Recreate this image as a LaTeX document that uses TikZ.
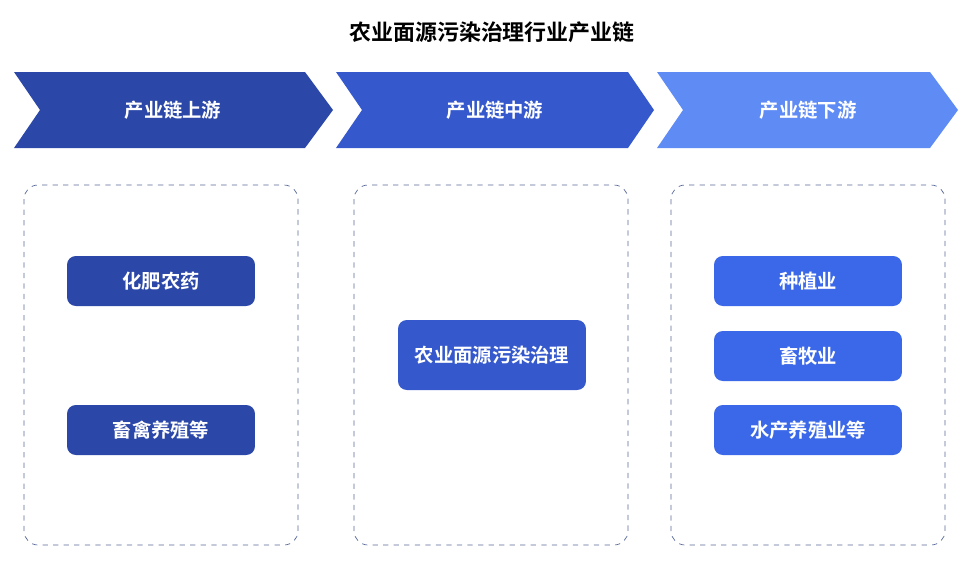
\documentclass[tikz,border=0pt]{standalone}
\usepackage{fontspec}
\setmainfont{Noto Sans CJK SC}[BoldFont={Noto Sans CJK SC Bold}]
\usetikzlibrary{positioning}
\definecolor{upc}{HTML}{2B47A8}
\definecolor{midc}{HTML}{3559CC}
\definecolor{downc}{HTML}{5F8BF5}
\definecolor{itemc}{HTML}{3A68E8}
\definecolor{dashc}{HTML}{5A6A9A}
\tikzset{
  chevtext/.style={text=white,font=\fontsize{11}{13}\selectfont\bfseries},
  item/.style={rounded corners=5pt,minimum width=3.76cm,minimum height=1cm,text=white,font=\fontsize{11}{13}\selectfont\bfseries},
  panel/.style={draw=dashc,dashed,rounded corners=8pt,thin}
}
\begin{document}
\begin{tikzpicture}[x=0.02cm,y=-0.02cm]
\useasboundingbox (0,0) rectangle (973,562);
% title
\node (title) at (492,32) {\fontsize{12.5}{15}\selectfont\bfseries 农业面源污染治理行业产业链};

% chevrons
\fill[upc] (14,72) -- (305,72) -- (333,110) -- (305,148) -- (14,148) -- (40,110) -- cycle;
\fill[midc] (336,72) -- (628,72) -- (654,110) -- (628,148) -- (336,148) -- (362,110) -- cycle;
\fill[downc] (657,72) -- (930,72) -- (958,110) -- (930,148) -- (657,148) -- (683,110) -- cycle;
\node[chevtext] (up) at (173,110) {产业链上游};
\node[chevtext] (mid) at (495,110) {产业链中游};
\node[chevtext] (down) at (808,110) {产业链下游};

% panels
\draw[panel] (24,185) rectangle (298,545);
\draw[panel] (354,185) rectangle (628,545);
\draw[panel] (671,185) rectangle (945,545);

% items
\node[item,fill=upc] (fert) at (161,281) {化肥农药};
\node[item,fill=upc] (stock) at (161,430) {畜禽养殖等};
\node[item,fill=midc,minimum height=1.4cm] (treat) at (492,355) {农业面源污染治理};
\node[item,fill=itemc] (plant) at (808,281) {种植业};
\node[item,fill=itemc] (herd) at (808,356) {畜牧业};
\node[item,fill=itemc] (aqua) at (808,430) {水产养殖业等};
\end{tikzpicture}
\end{document}
